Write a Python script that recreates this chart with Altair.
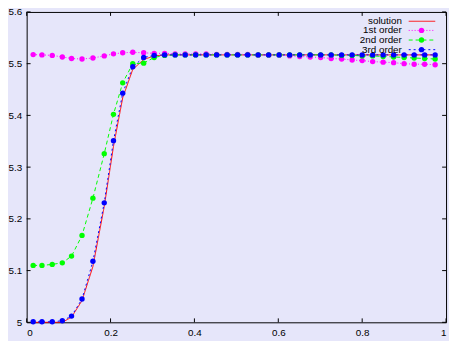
import altair as alt
import pandas as pd

x_vals = [0.0155, 0.0365, 0.061, 0.085, 0.107, 0.132, 0.158, 0.185, 0.207, 0.229,
          0.253, 0.279, 0.304, 0.329, 0.354, 0.378, 0.403, 0.428, 0.453, 0.478,
          0.503, 0.527, 0.552, 0.577, 0.602, 0.627, 0.651, 0.676, 0.701, 0.726,
          0.751, 0.776, 0.800, 0.825, 0.850, 0.875, 0.900, 0.924, 0.949, 0.974]

solution = [5.0, 5.0, 5.0, 5.0, 5.010, 5.042, 5.108, 5.224, 5.340, 5.434,
            5.489, 5.508, 5.515] + [5.517] * 27

first_order = [5.5175, 5.517, 5.516, 5.513, 5.510, 5.509, 5.511, 5.515, 5.519, 5.521,
               5.522, 5.521, 5.520, 5.520, 5.519, 5.519, 5.519, 5.519, 5.518, 5.518,
               5.518, 5.518, 5.517, 5.517, 5.517, 5.515, 5.514, 5.513, 5.512, 5.510,
               5.509, 5.507, 5.506, 5.504, 5.503, 5.502, 5.500, 5.499, 5.499, 5.498]

second_order = [5.110, 5.110, 5.112, 5.115, 5.128, 5.168, 5.240, 5.326, 5.402, 5.463,
                5.500, 5.501, 5.512, 5.516] + [5.517] * 16 + \
               [5.516, 5.516, 5.515, 5.515, 5.514, 5.513, 5.512, 5.511, 5.510, 5.509]

third_order = [5.001, 5.001, 5.001, 5.003, 5.012, 5.045, 5.118, 5.231, 5.351, 5.443,
               5.494, 5.512, 5.516] + [5.517] * 27

x_ticks = [0, 0.2, 0.4, 0.6, 0.8, 1]
y_ticks = [5.0, 5.1, 5.2, 5.3, 5.4, 5.5, 5.6]
series_names = ["solution", "1st order", "2nd order", "3rd order"]

W, H = 427, 316
BG = "#e6e6fa"
FONT = "Liberation Sans"
FS = 10

styles = {
    "solution": dict(color="#ff0000", dash=[1, 0], points=False),
    "1st order": dict(color="#ff00ff", dash=[1, 2], points=True),
    "2nd order": dict(color="#00ff00", dash=[4, 3], points=True),
    "3rd order": dict(color="#0000ff", dash=[2, 3], points=True),
}
series_values = {
    "solution": solution,
    "1st order": first_order,
    "2nd order": second_order,
    "3rd order": third_order,
}

xs = alt.Scale(domain=[0, 1], nice=False, zero=False)
ys = alt.Scale(domain=[5.0, 5.6], nice=False, zero=False)

x_axis = alt.Axis(values=x_ticks, format="~g", ticks=False, domain=False, grid=False,
                  labelFont=FONT, labelFontSize=FS, labelColor="#000", labelPadding=5,
                  title=None)
y_axis = alt.Axis(values=y_ticks, format="~g", ticks=False, domain=False, grid=False,
                  labelFont=FONT, labelFontSize=FS, labelColor="#000", labelPadding=5,
                  title=None)


def X(field):
    return alt.X(field, scale=xs, axis=x_axis)


def Y(field):
    return alt.Y(field, scale=ys, axis=y_axis)


layers = []
for name in series_names:
    st = styles[name]
    d = pd.DataFrame({"x": x_vals, "y": series_values[name]})
    base = alt.Chart(d).encode(x=X("x:Q"), y=Y("y:Q"))
    layers.append(base.mark_line(color=st["color"], strokeWidth=1, strokeDash=st["dash"]))
    if st["points"]:
        layers.append(base.mark_point(filled=True, color=st["color"], size=30, opacity=1))

# inward ticks (gnuplot style) on all four sides
xt = pd.DataFrame({"v": x_ticks})
yt = pd.DataFrame({"v": y_ticks})
TL = 4
for (y0, y1) in [(H, H - TL), (0, TL)]:
    layers.append(alt.Chart(xt).mark_rule(color="#000", strokeWidth=1).encode(
        x=X("v:Q"), y=alt.value(y0), y2=alt.value(y1)))
for (x0, x1) in [(0, TL), (W, W - TL)]:
    layers.append(alt.Chart(yt).mark_rule(color="#000", strokeWidth=1).encode(
        y=Y("v:Q"), x=alt.value(x0), x2=alt.value(x1)))

# legend (top right, labels left of symbols)
rows_y = [9.5, 18.8, 28.6, 38.4]
for name, ry in zip(series_names, rows_y):
    st = styles[name]
    ld = pd.DataFrame({"t": [name]})
    layers.append(alt.Chart(ld).mark_text(align="right", baseline="middle", font=FONT,
                                          fontSize=FS, color="#000").encode(
        x=alt.value(382), y=alt.value(ry), text="t:N"))
    layers.append(alt.Chart(ld).mark_rule(color=st["color"], strokeWidth=1,
                                          strokeDash=st["dash"]).encode(
        x=alt.value(389), x2=alt.value(416), y=alt.value(ry)))
    if st["points"]:
        layers.append(alt.Chart(ld).mark_point(filled=True, color=st["color"], size=30,
                                               opacity=1).encode(
            x=alt.value(402), y=alt.value(ry)))

chart = alt.layer(*layers).properties(
    width=W, height=H,
    background=BG,
    padding={"left": 19, "top": 1, "right": 3, "bottom": 16},
    autosize=alt.AutoSizeParams(type="none"),
).configure_view(stroke="#000", strokeWidth=1, fill=BG)

chart.save("out.html", embed_options={"renderer": "svg", "actions": False})
